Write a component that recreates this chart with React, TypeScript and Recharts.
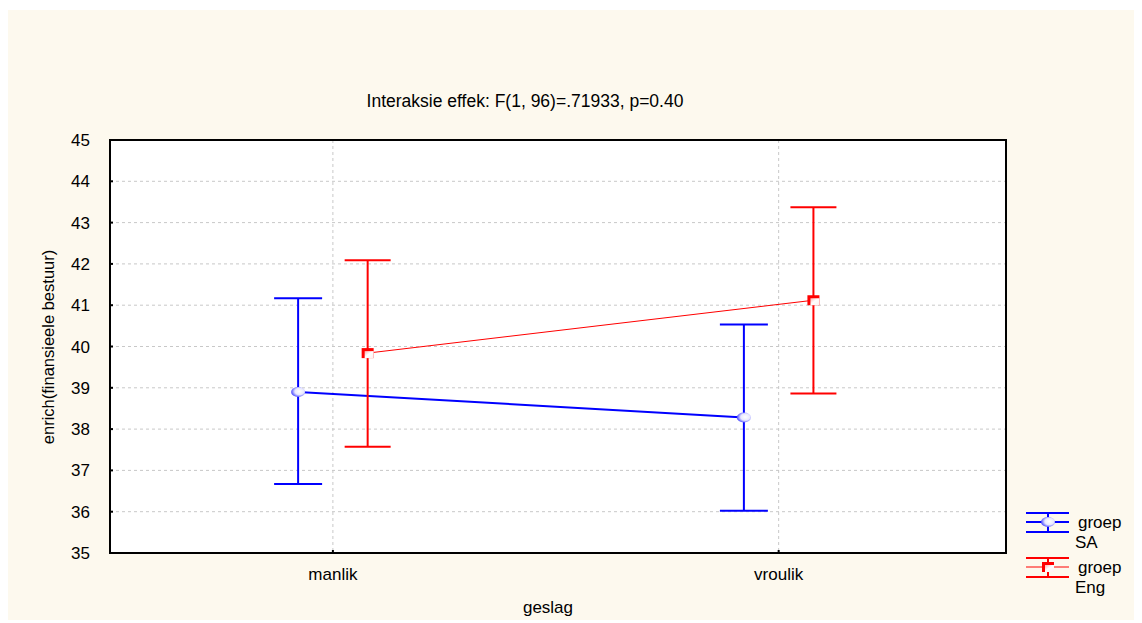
import { CartesianGrid, ComposedChart, ErrorBar, Label, Legend, Line, ReferenceArea, XAxis, YAxis } from "recharts";

const categories = ["manlik", "vroulik"];
const saMean = [38.9, 38.28];
const saLow = [36.67, 36.02];
const saHigh = [41.17, 40.53];
const engMean = [39.84, 41.12];
const engLow = [37.57, 38.86];
const engHigh = [42.09, 43.37];
const yTicks = [35, 36, 37, 38, 39, 40, 41, 42, 43, 44, 45];

const DODGE = 0.078;
const BLUE = "#0000ff";
const RED = "#ff0000";
const FONT = "Arial, 'Liberation Sans', sans-serif";
const X_DOMAIN: [number, number] = [0, 2.01];
const Y_DOMAIN: [number, number] = [35, 45];

function buildSeries(mean: number[], low: number[], high: number[], shift: number) {
  return categories.map((name, i) => ({
    name,
    x: i + 0.5 + shift,
    y: mean[i],
    err: [mean[i] - low[i], high[i] - mean[i]],
  }));
}

const saData = buildSeries(saMean, saLow, saHigh, -DODGE);
const engData = buildSeries(engMean, engLow, engHigh, DODGE);
const xTicks = categories.map((_, i) => i + 0.5);

function SaMarker({ cx, cy }: { cx: number; cy: number }) {
  return <ellipse cx={cx} cy={cy} rx={7} ry={5} fill="url(#saGrad)" />;
}

function EngMarker({ cx, cy }: { cx: number; cy: number }) {
  return (
    <g>
      <rect x={cx - 6} y={cy - 5} width={12} height={10} fill={RED} />
      <rect x={cx - 3} y={cy - 2} width={9} height={7} fill="url(#engGrad)" />
    </g>
  );
}

function SaDot(props: any) {
  const { cx, cy } = props;
  if (cx == null || cy == null) return null;
  return <SaMarker cx={cx} cy={cy} />;
}

function EngDot(props: any) {
  const { cx, cy } = props;
  if (cx == null || cy == null) return null;
  return <EngMarker cx={cx} cy={cy} />;
}

const legendItems = [
  { label: "groep", sub: "SA", color: BLUE, kind: "sa" },
  { label: "groep", sub: "Eng", color: RED, kind: "eng" },
];

function renderLegend() {
  return (
    <div style={{ fontFamily: FONT, fontSize: 17, color: "#000" }}>
      {legendItems.map((it) => (
        <div key={it.sub} style={{ position: "relative", height: 45 }}>
          <svg width={46} height={34} style={{ position: "absolute", left: 0, top: 0 }}>
            <line x1={0} y1={10} x2={43} y2={10} stroke={it.color} strokeWidth={2} />
            <line x1={0} y1={19} x2={43} y2={19} stroke={it.color} strokeWidth={it.kind === "sa" ? 2 : 1} />
            <line x1={0} y1={29} x2={43} y2={29} stroke={it.color} strokeWidth={2} />
            <line x1={22} y1={10} x2={22} y2={29} stroke={it.color} strokeWidth={2} />
            {it.kind === "sa" ? <SaMarker cx={22} cy={19} /> : <EngMarker cx={22} cy={19} />}
          </svg>
          <div style={{ position: "absolute", left: 52, top: 10, lineHeight: "20px" }}>
            {it.label}
            <br />
            <span style={{ marginLeft: -3 }}>{it.sub}</span>
          </div>
        </div>
      ))}
    </div>
  );
}

export default function App() {
  return (
    <div style={{ paddingTop: 2 }}>
      <div style={{ width: 1130, height: 610, background: "#fdf9ee" }}>
        <ComposedChart width={1130} height={610} margin={{ top: 130, right: 132, bottom: 0, left: 0 }}>
          <defs>
            <radialGradient id="saGrad" cx="60%" cy="45%" r="65%">
              <stop offset="0%" stopColor="#ffffff" />
              <stop offset="50%" stopColor="#e8e8ff" />
              <stop offset="100%" stopColor="#2b2bff" />
            </radialGradient>
            <linearGradient id="engGrad" x1="0" y1="0" x2="1" y2="1">
              <stop offset="0%" stopColor="#ffb0b0" />
              <stop offset="45%" stopColor="#ffffff" />
              <stop offset="100%" stopColor="#fff0f0" />
            </linearGradient>
          </defs>
          <CartesianGrid fill="#ffffff" stroke="#c8c8c8" strokeDasharray="3 3" />
          <ReferenceArea
            x1={X_DOMAIN[0]}
            x2={X_DOMAIN[1]}
            y1={Y_DOMAIN[0]}
            y2={Y_DOMAIN[1]}
            fill="none"
            fillOpacity={0}
            stroke="#000"
            strokeWidth={2}
            strokeOpacity={1}
            ifOverflow="visible"
          />
          <XAxis
            dataKey="x"
            type="number"
            domain={X_DOMAIN}
            ticks={xTicks}
            tickFormatter={(v: number) => categories[Math.floor(v)]}
            height={67}
            tickSize={-3}
            tickMargin={18}
            tickLine={{ stroke: "#000", strokeWidth: 2 }}
            axisLine={{ stroke: "#000", strokeWidth: 2 }}
            tick={{ fill: "#000", fontSize: 17, fontFamily: FONT }}
            allowDataOverflow
          >
            <Label
              content={() => (
                <g>
                  <text x={540} y={603} textAnchor="middle" fontSize={17} fontFamily={FONT} fill="#000">
                    geslag
                  </text>
                  <text x={517} y={97} textAnchor="middle" fontSize={17.5} fontFamily={FONT} fill="#000">
                    Interaksie effek: F(1, 96)=.71933, p=0.40
                  </text>
                </g>
              )}
            />
          </XAxis>
          <YAxis
            type="number"
            domain={Y_DOMAIN}
            ticks={yTicks}
            interval={0}
            width={102}
            tickSize={-3}
            tickMargin={23}
            tickLine={{ stroke: "#000", strokeWidth: 2 }}
            axisLine={{ stroke: "#000", strokeWidth: 2 }}
            tick={{ fill: "#000", fontSize: 17, fontFamily: FONT }}
          >
            <Label
              content={() => (
                <text
                  x={46}
                  y={337}
                  transform="rotate(-90 46 337)"
                  textAnchor="middle"
                  fontSize={16.5}
                  fontFamily={FONT}
                  fill="#000"
                >
                  enrich(finansieele bestuur)
                </text>
              )}
            />
          </YAxis>
          <Line
            data={saData}
            dataKey="y"
            stroke={BLUE}
            strokeWidth={2}
            dot={<SaDot />}
            activeDot={false}
            isAnimationActive={false}
          >
            <ErrorBar dataKey="err" direction="y" width={24} stroke={BLUE} strokeWidth={2} />
          </Line>
          <Line
            data={engData}
            dataKey="y"
            stroke={RED}
            strokeWidth={1}
            dot={<EngDot />}
            activeDot={false}
            isAnimationActive={false}
          >
            <ErrorBar dataKey="err" direction="y" width={23} stroke={RED} strokeWidth={2} />
          </Line>
          <Legend
            verticalAlign="middle"
            align="center"
            layout="horizontal"
            content={renderLegend}
            wrapperStyle={{ left: 1018, top: 493, width: 112 }}
          />
        </ComposedChart>
      </div>
    </div>
  );
}
